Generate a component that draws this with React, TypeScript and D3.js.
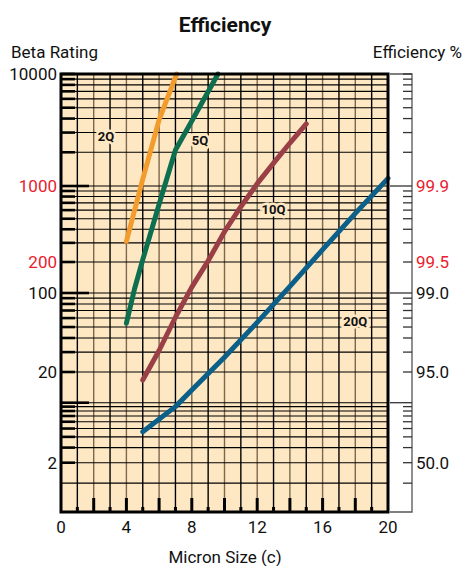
import React from "react";
import * as d3 from "d3";

// micron size (x) and beta rating (y), per media grade
const seriesNames = ["2Q", "5Q", "10Q", "20Q"];
const seriesColors = ["#f39c2e", "#0d6e50", "#9b3f47", "#0b5f88"];
const q2Micron = [4, 5, 6, 7.07];
const q2Beta = [310, 1150, 3900, 10000];
const q5Micron = [4, 4.5, 5, 6, 7, 8, 9.6];
const q5Beta = [54, 110, 210, 680, 2100, 3800, 10000];
const q10Micron = [5, 6, 7, 8, 9, 10, 11, 12, 13, 14, 15];
const q10Beta = [16.7, 31, 61, 114, 205, 380, 645, 1050, 1600, 2420, 3580];
const q20Micron = [5, 7, 8, 10, 12, 14, 16, 18, 20];
const q20Beta = [4.6, 9, 13.3, 27, 55, 116, 260, 560, 1170];

// series label positions (micron, beta)
const labelMicron = [2.75, 8.5, 13, 18];
const labelBeta = [2770, 2570, 608, 56];

// axes
const xTicks = [0, 4, 8, 12, 16, 20];
const betaTicks = [10000, 1000, 200, 100, 20, 2];
const betaRed = [1000, 200];
const effTicks = [99.9, 99.5, 99.0, 95.0, 50.0];
const effRed = [99.9, 99.5];
const betaGrid = [
  1.5,
  ...d3.range(2, 10),
  ...d3.range(10, 100, 10),
  ...d3.range(100, 1000, 100),
  ...d3.range(1000, 10001, 1000),
];
const decades = [10, 100, 1000];

const W = 466;
const H = 566;
const L = 61;
const R = 388;
const T = 74;
const B = 512;
const stripR = 412;

const FONT = "Roboto, 'Noto Sans', sans-serif";
const RED = "#e8212e";
const CREAM = "#fee8c4";
const BROWN = "#7a684e";

const x = d3.scaleLinear().domain([0, 20]).range([L, R]);
// the printed beta scale is not a single clean log scale, so it is piecewise
const y = d3
  .scaleLog()
  .domain([1, 2, 10, 20, 100, 200, 1000, 10000])
  .range([B, 462.7, 402.7, 372, 293, 262, 186, T]);

const allMicron = [q2Micron, q5Micron, q10Micron, q20Micron];
const allBeta = [q2Beta, q5Beta, q10Beta, q20Beta];

const line = d3
  .line<[number, number]>()
  .x((d) => x(d[0]))
  .y((d) => y(d[1]));

const App: React.FC = () => {
  return (
    <svg
      width={W}
      height={H}
      style={{ position: "absolute", left: 0, top: 0, fontFamily: FONT }}
    >
      <rect width={W} height={H} fill="#fff" />
      {/* plot background */}
      <rect x={L} y={T} width={R - L} height={B - T} fill={CREAM} />

      {/* vertical grid */}
      {d3.range(1, 20).map((v) => (
        <line
          key={"vx" + v}
          x1={x(v)}
          x2={x(v)}
          y1={T}
          y2={B}
          stroke={v % 2 === 0 ? BROWN : "#000"}
          strokeWidth={1.4}
        />
      ))}
      {/* horizontal grid */}
      {betaGrid.map((v) => (
        <line
          key={"hy" + v}
          x1={L}
          x2={R}
          y1={y(v)}
          y2={y(v)}
          stroke="#000"
          strokeWidth={1.1}
        />
      ))}
      {/* thick inner ticks on left */}
      {betaGrid
        .filter((v) => v !== 1.5)
        .map((v) => (
          <line
            key={"lt" + v}
            x1={L}
            x2={L + (decades.includes(v) ? 28 : 14)}
            y1={y(v)}
            y2={y(v)}
            stroke="#000"
            strokeWidth={2.6}
          />
        ))}
      {/* bottom ticks */}
      {d3.range(1, 20).map((v) => (
        <line
          key={"bt" + v}
          x1={x(v)}
          x2={x(v)}
          y1={B}
          y2={B - (v % 2 === 0 ? 14 : 5)}
          stroke="#000"
          strokeWidth={3}
        />
      ))}

      {/* curves */}
      {seriesNames.map((name, i) => (
        <path
          key={name}
          d={line(allMicron[i].map((m, j) => [m, allBeta[i][j]]) as [number, number][]) ?? ""}
          fill="none"
          stroke={seriesColors[i]}
          strokeWidth={5}
          strokeLinecap="round"
          strokeLinejoin="round"
        />
      ))}

      {/* series labels */}
      {seriesNames.map((name, i) => (
        <text
          key={"lab" + name}
          x={x(labelMicron[i])}
          y={y(labelBeta[i])}
          dy="0.36em"
          textAnchor="middle"
          fontSize={13}
          fontWeight="bold"
          stroke={CREAM}
          strokeWidth={5}
          paintOrder="stroke"
          fill="#111"
        >
          {name}
        </text>
      ))}

      {/* plot frame */}
      <rect
        x={L}
        y={T}
        width={R - L}
        height={B - T}
        fill="none"
        stroke="#000"
        strokeWidth={3}
      />

      {/* efficiency strip */}
      <path
        d={`M${R + 2},${T}H${stripR}V${B}H${R + 2}`}
        fill="none"
        stroke="#555"
        strokeWidth={1.3}
      />
      {betaGrid.map((v) => (
        <line
          key={"rt" + v}
          x1={stripR}
          x2={stripR - (decades.includes(v) ? 22 : 9)}
          y1={y(v)}
          y2={y(v)}
          stroke="#333"
          strokeWidth={1.3}
        />
      ))}

      {/* left labels */}
      {betaTicks.map((v) => (
        <text
          key={"bl" + v}
          x={L - 4}
          y={y(v)}
          dy="0.36em"
          textAnchor="end"
          fontSize={17}
          fill={betaRed.includes(v) ? RED : "#111"}
        >
          {v}
        </text>
      ))}
      {/* right labels */}
      {effTicks.map((e) => (
        <text
          key={"el" + e}
          x={stripR + 4}
          y={y(1 / (1 - e / 100))}
          dy="0.36em"
          textAnchor="start"
          fontSize={17}
          fill={effRed.includes(e) ? RED : "#111"}
        >
          {e.toFixed(1)}
        </text>
      ))}
      {/* bottom labels */}
      {xTicks.map((v) => (
        <text
          key={"xl" + v}
          x={x(v)}
          y={533}
          textAnchor="middle"
          fontSize={17}
          fill="#111"
        >
          {v}
        </text>
      ))}

      {/* titles */}
      <text x={225} y={32} textAnchor="middle" fontSize={21} fontWeight="bold" fill="#111">
        Efficiency
      </text>
      <text x={11} y={58} fontSize={17} fill="#111">
        Beta Rating
      </text>
      <text x={462} y={58} textAnchor="end" fontSize={17} fill="#111">
        Efficiency %
      </text>
      <text x={225} y={563} textAnchor="middle" fontSize={17} fill="#111">
        Micron Size (c)
      </text>
    </svg>
  );
};

export default App;
